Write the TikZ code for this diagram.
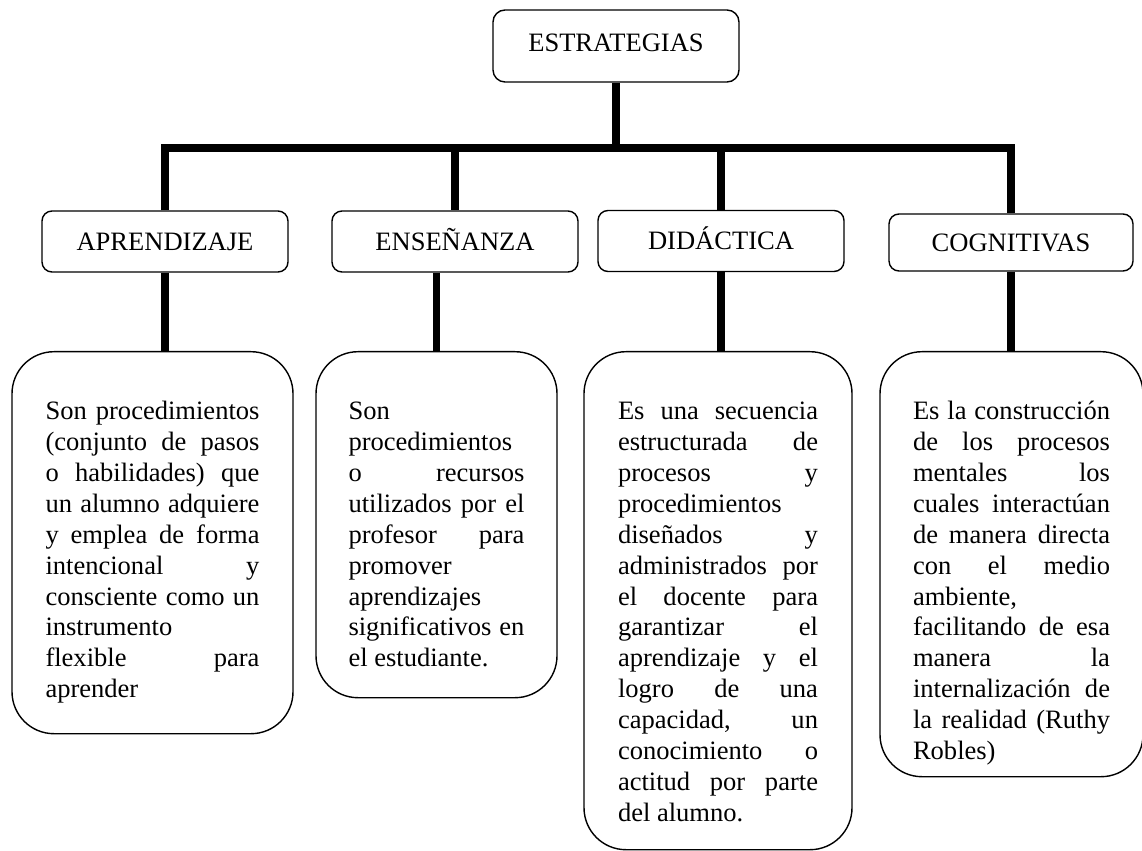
\documentclass[tikz,border=0pt]{standalone}
\usepackage{fontspec}
\setmainfont{Liberation Serif}
\usepackage{tikz}
\hyphenpenalty=10000
\exhyphenpenalty=10000
\tolerance=10000
\hbadness=10000
\vbadness=10000

\begin{document}
\begin{tikzpicture}[
    every node/.style={font=\fontsize{15.1pt}{17.58pt}\selectfont},
    title box/.style={draw, rectangle, rounded corners=0.24cm, line width=0.8pt, minimum width=4.92cm, minimum height=1.44cm, inner sep=0cm, text height=0.35cm, text depth=0.12cm},
    label box/.style={draw, rectangle, rounded corners=0.2cm, line width=0.8pt, minimum width=4.92cm, minimum height=1.22cm, inner sep=0cm, text height=0.35cm, text depth=0cm},
    text box/.style={draw, rectangle, rounded corners=0.84cm, line width=0.8pt, inner xsep=0cm, inner ysep=0.9275cm, anchor=north},
    link/.style={line width=0.15cm}
]
                \useasboundingbox (0, 0) rectangle (22.84, 17);
                \clip (0, 0) rectangle (22.84, 17);

                \node[title box] (estrategias) at (12.32, 16.08) {ESTRATEGIAS};
                \coordinate (bar) at (0, 14.04);

                \node[label box] (aprendizaje) at (3.30, 12.17) {APRENDIZAJE};
                \node[label box] (ensenanza) at (9.10, 12.17) {ENSEÑANZA};
                \node[label box] (didactica) at (14.42, 12.18) {DIDÁCTICA};
                \node[label box, minimum width=4.88cm, minimum height=1.14cm] (cognitivas) at (20.22, 12.15) {COGNITIVAS};

                \node[text box, minimum width=5.62cm] (aprendizaje text) at (3.05, 9.98) {\parbox[c][5.785cm][t]{4.28cm}{\strut Son procedimientos\linebreak (conjunto de pasos\linebreak o habilidades) que\linebreak un alumno adquiere\linebreak y emplea de forma\linebreak intencional y\linebreak consciente como un\linebreak instrumento\linebreak flexible para\linebreak aprender}};
                \node[text box, minimum width=4.82cm] (ensenanza text) at (8.73, 9.98) {\parbox[c][5.065cm][t]{3.52cm}{\strut Son\linebreak procedimientos\linebreak o recursos\linebreak utilizados por el\linebreak profesor para\linebreak promover\linebreak aprendizajes\linebreak significativos en\linebreak el estudiante.}};
                \node[text box, minimum width=5.36cm] (didactica text) at (14.36, 9.98) {\parbox[c][8.105cm][t]{4.0cm}{\strut Es una secuencia\linebreak estructurada de\linebreak procesos y\linebreak procedimientos\linebreak diseñados y\linebreak administrados por\linebreak el docente para\linebreak garantizar el\linebreak aprendizaje y el\linebreak logro de una\linebreak capacidad, un\linebreak conocimiento o\linebreak actitud por parte\linebreak del alumno.}};
                \node[text box, minimum width=5.26cm] (cognitivas text) at (20.23, 9.98) {\parbox[c][6.645cm][t]{3.94cm}{\strut Es la construcción\linebreak de los procesos\linebreak mentales los\linebreak cuales interactúan\linebreak de manera directa\linebreak con el medio\linebreak ambiente,\linebreak facilitando de esa\linebreak manera la\linebreak internalización de\linebreak la realidad (Ruthy\linebreak Robles)}};

                \draw[link] (estrategias) -- (estrategias |- bar);
                \draw[link] (aprendizaje) |- (cognitivas |- bar) -- (cognitivas);
                \draw[link] (ensenanza |- bar) -- (ensenanza);
                \draw[link] (didactica |- bar) -- (didactica);

                \draw[link] (aprendizaje) -- (aprendizaje |- aprendizaje text.north);
                \draw[link] (ensenanza text.north |- ensenanza.south) -- (ensenanza text);
                \draw[link] (didactica) -- (didactica |- didactica text.north);
                \draw[link] (cognitivas) -- (cognitivas |- cognitivas text.north);
\end{tikzpicture}
\end{document}
